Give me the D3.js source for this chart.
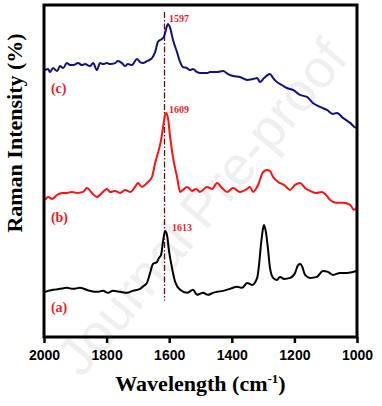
<!DOCTYPE html>
<html>
<head>
<meta charset="utf-8">
<script src="https://cdnjs.cloudflare.com/ajax/libs/d3/7.8.5/d3.min.js"></script>
<style>
  body { margin: 0; background: #fff; }
  svg { display: block; }
</style>
</head>
<body>
<svg id="graph1"></svg>
<script>
    // Raman shift (cm-1) and intensity (a.u.)
    const waveC = [1997,1987,1981,1971,1958,1949,1939,1927,1917,1907,1891,1879,1869,1853,1843,1831,1821,1811,1799,1789,1773,1764,1751,1741,1732,1719,1703,1693,1684,1671,1655,1645,1636,1623,1617,1607,1604,1597,1588,1575,1565,1556,1543,1534,1524,1511,1502,1479,1470,1447,1428,1412,1396,1374,1351,1332,1319,1310,1297,1278,1268,1256,1240,1224,1204,1182,1160,1141,1118,1096,1077,1064,1045,1022,1003,1000];
    const intC = [80.4,80.7,79.8,81.0,80.1,81.6,81.0,82.5,81.9,81.9,82.5,81.9,82.2,81.6,82.5,80.4,82.5,82.2,82.5,82.2,82.5,83.1,82.5,81.6,82.2,81.9,83.7,82.8,82.5,83.1,84.0,85.8,88.9,89.8,90.4,93.7,94.3,93.1,89.5,85.8,82.8,81.3,81.0,80.4,80.7,79.8,79.5,79.5,79.8,79.8,80.1,79.2,78.6,78.3,77.4,77.7,78.0,76.8,78.0,79.2,78.0,76.8,75.9,75.0,74.4,72.9,72.3,70.5,69.3,68.4,67.2,67.5,66.0,64.5,63.0,63.3];

    const waveB = [1997,1987,1974,1958,1942,1927,1911,1895,1875,1863,1847,1831,1821,1799,1789,1773,1757,1741,1725,1709,1700,1687,1671,1655,1645,1636,1626,1620,1613,1610,1604,1597,1588,1575,1565,1556,1543,1527,1514,1502,1479,1463,1447,1431,1415,1396,1374,1351,1342,1332,1316,1300,1288,1278,1268,1252,1233,1214,1198,1182,1166,1150,1131,1112,1099,1086,1067,1045,1022,1010,1000];
    const intB = [41.3,42.2,41.6,42.8,43.4,43.4,43.7,43.4,43.7,44.9,43.4,42.2,42.8,44.6,43.7,44.0,43.4,44.3,43.7,45.2,46.4,45.2,46.4,48.2,52.4,55.4,59.3,63.0,66.9,67.5,66.0,60.2,54.2,48.2,43.7,44.3,45.2,44.0,44.6,43.7,45.2,44.6,46.4,44.9,43.7,44.9,43.7,44.6,45.2,43.7,45.8,49.7,50.3,50.0,48.2,46.7,45.8,44.3,45.8,46.4,44.9,44.0,43.4,43.7,42.8,41.3,40.4,40.4,39.8,38.3,39.2];

    const waveA = [1997,1987,1971,1949,1927,1907,1885,1853,1831,1811,1796,1780,1757,1735,1716,1693,1681,1671,1661,1652,1639,1633,1626,1620,1613,1607,1601,1591,1581,1565,1543,1524,1511,1502,1492,1476,1460,1447,1428,1406,1383,1367,1351,1335,1319,1313,1307,1300,1297,1291,1284,1278,1268,1256,1246,1233,1214,1198,1188,1182,1176,1166,1150,1128,1109,1093,1077,1054,1032,1013,1000];
    const intA = [13.6,13.9,14.2,14.5,14.8,14.5,14.8,13.9,13.6,13.9,13.3,13.9,13.6,13.3,13.9,14.5,15.4,16.3,19.3,22.0,22.6,23.8,24.7,28.6,31.9,30.7,26.2,20.8,16.6,14.2,13.3,14.2,12.7,13.0,13.3,12.7,13.3,13.6,13.9,14.5,15.1,14.8,16.3,15.7,17.8,21.7,27.7,32.8,33.7,31.6,26.2,20.8,17.8,17.2,18.1,17.5,17.8,19.3,21.7,22.0,21.4,18.7,17.8,18.1,19.9,19.6,18.7,19.3,19.3,19.6,19.9];

    const xTicks = [2000, 1800, 1600, 1400, 1200, 1000];
    const seriesNames = ["(c)", "(b)", "(a)"];
    const seriesColors = ["#12127e", "#ff1010", "#000000"];
    const peakLabels = ["1597", "1609", "1613"];
    const peakPos = [[1601, 95.0], [1601, 67.6], [1591, 32.0]];
    const namePos = [[1978, 73.5], [1978, 34.6], [1978, 7.5]];
    const refLine = 1615;

    const width = 382, height = 406;
    const margin = {top: 5, right: 25, bottom: 69, left: 44};

    const svg = d3.select("#graph1")
        .attr("width", width)
        .attr("height", height)
        .style("font-family", "'Liberation Serif', 'Times New Roman', serif");

    svg.append("rect").attr("width", width).attr("height", height).attr("fill", "#fff");

    // faint watermark, kept inside the page
    svg.append("text")
        .attr("transform", "translate(205,210) rotate(-50)")
        .attr("text-anchor", "middle")
        .attr("dominant-baseline", "middle")
        .style("font-family", "'Liberation Sans', Arial, sans-serif")
        .style("font-size", "54px")
        .attr("fill", "#efefef")
        .text("Journal Pre-proof");

    const x = d3.scaleLinear()
        .domain([2000, 1000])
        .range([margin.left, width - margin.right]);
    const y = d3.scaleLinear()
        .domain([0, 100])
        .range([height - margin.bottom, margin.top]);

    const line = d3.line()
        .x(d => x(d[0]))
        .y(d => y(d[1]))
        .curve(d3.curveMonotoneX);

    const series = [
        d3.zip(waveC, intC),
        d3.zip(waveB, intB),
        d3.zip(waveA, intA)
    ];

    // dash-dot reference line
    svg.append("line")
        .attr("x1", x(refLine)).attr("x2", x(refLine))
        .attr("y1", y(97.9)).attr("y2", y(11))
        .attr("stroke", "#5b1414")
        .attr("stroke-width", 1.3)
        .attr("stroke-dasharray", "6,2,1.5,2");

    svg.selectAll(".spectrum")
        .data(series)
        .join("path")
        .attr("class", "spectrum")
        .attr("fill", "none")
        .attr("stroke", (d, i) => seriesColors[i])
        .attr("stroke-width", 2)
        .attr("stroke-linejoin", "round")
        .attr("d", line);

    svg.selectAll(".peak")
        .data(peakLabels)
        .join("text")
        .attr("class", "peak")
        .attr("x", (d, i) => x(peakPos[i][0]))
        .attr("y", (d, i) => y(peakPos[i][1]))
        .attr("fill", "#ee1c25")
        .style("font-size", "10px")
        .style("font-weight", "bold")
        .text(d => d);

    svg.selectAll(".name")
        .data(seriesNames)
        .join("text")
        .attr("class", "name")
        .attr("x", (d, i) => x(namePos[i][0]))
        .attr("y", (d, i) => y(namePos[i][1]))
        .attr("fill", "#ee1c25")
        .style("font-size", "14px")
        .style("font-weight", "bold")
        .text(d => d);

    // frame
    svg.append("rect")
        .attr("x", margin.left)
        .attr("y", margin.top)
        .attr("width", width - margin.left - margin.right)
        .attr("height", height - margin.top - margin.bottom)
        .attr("fill", "none")
        .attr("stroke", "#000")
        .attr("stroke-width", 3);

    const xAxis = svg.append("g")
        .attr("transform", `translate(0,${height - margin.bottom})`)
        .call(d3.axisBottom(x).tickValues(xTicks).tickSize(6).tickPadding(7).tickFormat(d3.format("d")));
    xAxis.select(".domain").remove();
    xAxis.selectAll(".tick line").attr("stroke-width", 2.5);
    xAxis.selectAll(".tick text")
        .style("font-family", "'Liberation Sans', Arial, sans-serif")
        .style("font-size", "14px")
        .style("font-weight", "bold");

    const xTitle = svg.append("text")
        .attr("x", (margin.left + width - margin.right) / 2)
        .attr("y", 391)
        .attr("text-anchor", "middle")
        .style("font-size", "22px")
        .style("font-weight", "bold");
    xTitle.append("tspan").text("Wavelength (cm");
    xTitle.append("tspan").attr("dy", -8).style("font-size", "13px").text("-1");
    xTitle.append("tspan").attr("dy", 8).text(")");

    svg.append("text")
        .attr("transform", `translate(22,${(margin.top + height - margin.bottom) / 2 - 38}) rotate(-90)`)
        .attr("text-anchor", "middle")
        .style("font-size", "22px")
        .style("font-weight", "bold")
        .text("Raman Intensity (%)");
</script>
</body>
</html>
